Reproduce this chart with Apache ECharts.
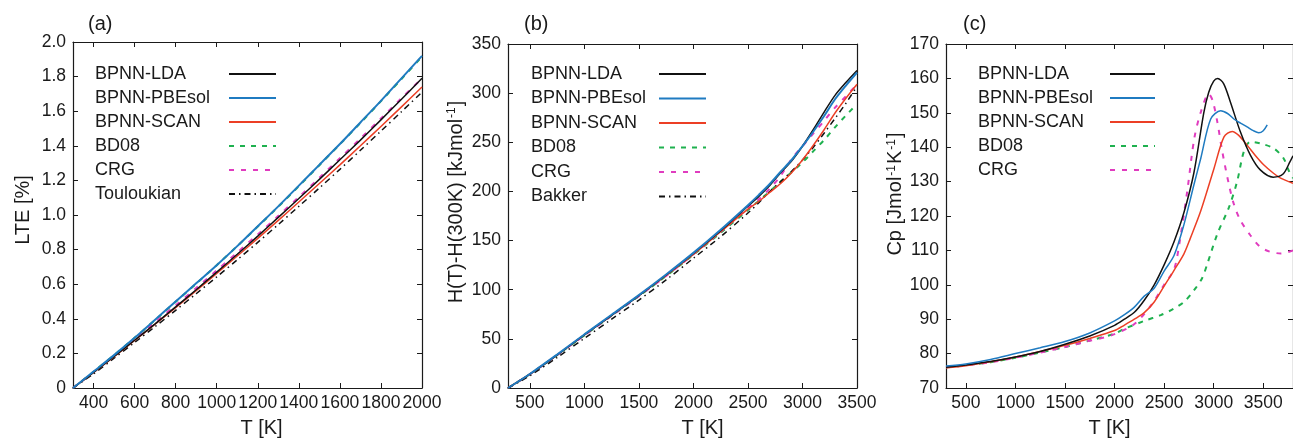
<!DOCTYPE html>
<html>
<head>
<meta charset="utf-8">
<script src="https://cdn.jsdelivr.net/npm/echarts@6/dist/echarts.min.js"></script>
<style>
html, body { margin: 0; padding: 0; background: #fff; }
#chart { width: 1293px; height: 443px; }
</style>
</head>
<body>
<div id="chart"></div>
<script>
// (a) linear thermal expansion
var tempA = [300, 400, 500, 600, 700, 800, 900, 1000, 1100, 1200, 1300, 1400, 1500, 1600, 1700, 1800, 1900, 2000];
var ldaA = [0, 0.09, 0.182, 0.276, 0.371, 0.469, 0.568, 0.67, 0.773, 0.878, 0.986, 1.095, 1.206, 1.319, 1.433, 1.55, 1.669, 1.79];
var pbeA = [0, 0.095, 0.19, 0.29, 0.395, 0.5, 0.605, 0.71, 0.82, 0.935, 1.05, 1.17, 1.29, 1.41, 1.535, 1.66, 1.79, 1.92];
var scanA = [0, 0.09, 0.181, 0.275, 0.369, 0.465, 0.563, 0.662, 0.763, 0.865, 0.969, 1.075, 1.182, 1.29, 1.4, 1.512, 1.625, 1.74];
var bd08A = [0, 0.094, 0.19, 0.29, 0.393, 0.498, 0.603, 0.71, 0.82, 0.933, 1.048, 1.167, 1.288, 1.409, 1.532, 1.658, 1.786, 1.915];
var crgA = [0, 0.092, 0.186, 0.282, 0.38, 0.478, 0.578, 0.68, 0.783, 0.888, 0.995, 1.104, 1.215, 1.328, 1.442, 1.558, 1.675, 1.79];
var toulA = [0, 0.082, 0.172, 0.263, 0.355, 0.449, 0.545, 0.642, 0.741, 0.842, 0.945, 1.05, 1.156, 1.264, 1.374, 1.485, 1.597, 1.71];

// (b) enthalpy
var tempB = [300, 500, 750, 1000, 1250, 1500, 1750, 2000, 2250, 2500, 2600, 2700, 2800, 2900, 3000, 3100, 3200, 3300, 3400, 3500];
var ldaB = [0, 14, 33.5, 54, 74, 94, 115, 137, 160, 185, 195, 206, 219, 231, 246, 263, 281, 298, 311, 323];
var pbeB = [0, 14.2, 34, 54.5, 74.5, 94.5, 115.5, 137.5, 161, 186, 196.5, 207.5, 220, 232, 246, 261, 277, 294, 308, 321];
var scanB = [0, 14, 33.5, 54, 74, 94, 114.5, 136, 159, 182, 190, 199, 208, 219, 232, 247, 263, 280, 295, 309];
var bd08B = [0, 14, 33.5, 53.5, 73.5, 93.5, 114, 135.5, 158, 181, 190.5, 200, 210, 219.5, 229.5, 241, 252.5, 265.5, 277.5, 289];
var crgB = [0, 14, 33.5, 53.5, 73.5, 93.5, 114, 136, 159, 183, 192, 203, 216, 233, 246, 259, 272, 285.5, 297, 309];
var bakkerB = [0, 12.5, 31, 50.5, 70, 89.5, 110, 132, 154, 178, 188.5, 200, 210, 220.5, 232, 245, 259.5, 274.5, 290, 307];

// (c) heat capacity, [T, Cp]
var ldaC = [[300, 76], [500, 76.7], [750, 77.7], [1000, 79], [1250, 80.6], [1500, 82.7], [1750, 85.1], [2000, 88.2], [2100, 90], [2200, 92], [2300, 95.5], [2400, 100], [2500, 105.8], [2600, 112.5], [2700, 121], [2800, 132.5], [2900, 150], [2950, 156], [3000, 159.2], [3040, 160], [3100, 158.5], [3170, 153], [3270, 144.4], [3370, 137.7], [3470, 133.4], [3600, 131.3], [3700, 132.2], [3770, 135.8], [3800, 137.5]];
var pbeC = [[300, 76.4], [500, 77], [750, 78.3], [1000, 80], [1250, 81.7], [1500, 83.5], [1750, 86], [2000, 89.5], [2100, 91.3], [2200, 93.5], [2300, 96.7], [2400, 99], [2500, 104], [2600, 108.5], [2700, 117.5], [2800, 129], [2870, 136.8], [2970, 148.2], [3070, 150.6], [3140, 149.8], [3204, 148.2], [3270, 147], [3337, 145.9], [3400, 144.8], [3454, 144.2], [3500, 144.8], [3540, 146.5]];
var scanC = [[300, 75.9], [500, 76.5], [750, 77.6], [1000, 79], [1250, 80.6], [1500, 82.4], [1750, 84.4], [2000, 86.7], [2100, 88.3], [2200, 90], [2300, 91.9], [2400, 95], [2500, 99.6], [2600, 104.2], [2700, 109], [2764, 113.5], [2870, 121.5], [3004, 133.9], [3104, 143], [3187, 144.6], [3250, 143.5], [3337, 140.6], [3420, 137.6], [3504, 134.9], [3600, 132.5], [3670, 131.1], [3800, 129.5]];
var bd08C = [[300, 76], [500, 76.6], [750, 77.5], [1000, 78.8], [1250, 80.3], [1500, 81.9], [1750, 83.8], [2000, 85.8], [2100, 87.2], [2300, 89.5], [2467, 91.2], [2600, 93.1], [2700, 95], [2804, 98.5], [2883, 101.9], [2937, 106.2], [3037, 114.8], [3154, 122.5], [3237, 130.1], [3304, 138.7], [3370, 141.6], [3470, 141.1], [3604, 139.7], [3704, 136.8], [3760, 133], [3800, 131]];
var crgC = [[300, 76], [500, 76.6], [750, 77.5], [1000, 78.8], [1250, 80.3], [1500, 81.9], [1700, 83.4], [1967, 85.3], [2200, 88.6], [2380, 94.5], [2500, 100], [2600, 104.5], [2654, 112], [2737, 128], [2804, 142.5], [2870, 150.2], [2950, 155.5], [2990, 153.5], [3037, 147.3], [3087, 138.7], [3154, 129.1], [3204, 123.4], [3270, 118.7], [3370, 114.4], [3470, 111], [3570, 109.6], [3680, 109.1], [3800, 110]];

var ticksA = [400, 600, 800, 1000, 1200, 1400, 1600, 1800, 2000];
var ticksB = [500, 1000, 1500, 2000, 2500, 3000, 3500];
var ticksC = [500, 1000, 1500, 2000, 2500, 3000, 3500];

var FONT = 'Liberation Sans';
var INK = '#1a1a1a';

function zip(xs, ys) {
    var out = [];
    for (var i = 0; i < xs.length; i++)
        out.push([xs[i], ys[i]]);
    return out;
}

function line(name, data, idx, color, width, dash) {
    return {
        type: 'line', name: name, data: data,
        xAxisIndex: idx * 2, yAxisIndex: idx * 2,
        symbol: 'none', smooth: 0.3, animation: false,
        lineStyle: { color: color, width: width, type: dash || 'solid' },
        itemStyle: { color: color }
    };
}

function xPair(gi, min, max, ticks, pad) {
    var base = {
        type: 'value', gridIndex: gi, min: min, max: max,
        axisLine: { onZero: false, lineStyle: { color: INK, width: 1.2 } },
        axisTick: { inside: true, length: 5, customValues: ticks, lineStyle: { color: INK, width: 1 } },
        splitLine: { show: false }
    };
    var bottom = Object.assign({}, base, {
        position: 'bottom',
        name: 'T [K]', nameLocation: 'middle', nameGap: 30,
        nameTextStyle: { fontSize: 20, color: INK, fontFamily: FONT, padding: pad },
        axisLabel: {
            customValues: ticks, showMaxLabel: true, showMinLabel: true, hideOverlap: false,
            fontSize: 17.5, color: INK, fontFamily: FONT, margin: 6,
            formatter: function (v) { return String(v); }
        }
    });
    var top = Object.assign({}, base, { position: 'top', axisLabel: { show: false } });
    return [bottom, top];
}

function yPair(gi, min, max, step, name, gap, pad, fmt, rich) {
    var base = {
        type: 'value', gridIndex: gi, min: min, max: max, interval: step,
        axisLine: { onZero: false, lineStyle: { color: INK, width: 1.2 } },
        axisTick: { inside: true, length: 5, lineStyle: { color: INK, width: 1 } },
        splitLine: { show: false }
    };
    var left = Object.assign({}, base, {
        position: 'left',
        name: name, nameLocation: 'middle', nameGap: gap,
        nameTextStyle: { fontSize: 20, color: INK, fontFamily: FONT, padding: pad, rich: rich || {} },
        axisLabel: { fontSize: 17.5, color: INK, fontFamily: FONT, margin: 7, formatter: fmt || function (v) { return String(v); } }
    });
    var right = Object.assign({}, base, { position: 'right', axisLabel: { show: false } });
    return [left, right];
}

function legendFor(left, top, names, boxW, iconW, gap) {
    return {
        orient: 'vertical', left: left, top: top, align: 'right',
        itemWidth: iconW, itemHeight: 14, itemGap: gap,
        data: names, selectedMode: false,
        itemStyle: { opacity: 0 },
        formatter: function (n) { return '{t|' + n + '}'; },
        textStyle: {
            fontFamily: FONT, fontSize: 18, color: INK,
            rich: { t: { width: boxW, align: 'left', fontSize: 18, fontFamily: FONT, color: INK } }
        }
    };
}

var sup = { s: { fontSize: 12, verticalAlign: 'top', fontFamily: FONT, color: INK, padding: [0, 1, 0, 1] } };

var BLACK = '#111111', BLUE = '#1f7bc1', RED = '#ec3f25', GREEN = '#1fb14f', PINK = '#e03cbf';

var option = {
    backgroundColor: '#fff',
    animation: false,
    title: [
        { text: '(a)', left: 83, top: 9, textStyle: { fontSize: 20, fontWeight: 'normal', color: INK, fontFamily: FONT } },
        { text: '(b)', left: 519, top: 9, textStyle: { fontSize: 20, fontWeight: 'normal', color: INK, fontFamily: FONT } },
        { text: '(c)', left: 958, top: 9, textStyle: { fontSize: 20, fontWeight: 'normal', color: INK, fontFamily: FONT } }
    ],
    grid: [
        { left: 73, top: 42, width: 349, height: 348 },
        { left: 508, top: 44, width: 349, height: 349 },
        { left: 946, top: 44, width: 350, height: 349 }
    ],
    xAxis: [].concat(
        xPair(0, 300, 2000, ticksA, [0, 0, 0, 28]),
        xPair(1, 300, 3500, ticksB, [0, 0, 0, 40]),
        xPair(2, 300, 3800, ticksC, [0, 20, 0, 0])
    ),
    yAxis: [].concat(
        yPair(0, 0, 2, 0.2, 'LTE [%]', 40, [0, 0, 0, 10], function (v) { return v === 0 ? '0' : v.toFixed(1); }),
        yPair(1, 0, 350, 50, 'H(T)-H(300K) [kJmol{s|-1}]', 42, [0, 0, 0, 28], null, sup),
        yPair(2, 70, 170, 10, 'Cp [Jmol{s|-1}K{s|-1}]', 40, [0, 0, 0, 44], null, sup)
    ),
    legend: [
        legendFor(90, 60, ['BPNN-LDA', 'BPNN-PBEsol', 'BPNN-SCAN', 'BD08', 'CRG', 'Touloukian'], 129, 47, 6),
        legendFor(526, 60, ['BPNN-LDA', 'BPNN-PBEsol', 'BPNN-SCAN', 'BD08', 'CRG', 'Bakker'], 123, 47, 6.5),
        legendFor(973, 60, ['BPNN-LDA', 'BPNN-PBEsol', 'BPNN-SCAN', 'BD08', 'CRG'], 127, 45, 6)
    ],
    series: [
        line('BD08', zip(tempA, bd08A), 0, GREEN, 2, [5, 6]),
        line('CRG', zip(tempA, crgA), 0, PINK, 2, [5, 7]),
        line('Touloukian', zip(tempA, toulA), 0, BLACK, 1.5, [6, 4, 1.5, 4]),
        line('BPNN-SCAN', zip(tempA, scanA), 0, RED, 1.5),
        line('BPNN-LDA', zip(tempA, ldaA), 0, BLACK, 1.5),
        line('BPNN-PBEsol', zip(tempA, pbeA), 0, BLUE, 2),

        line('BD08', zip(tempB, bd08B), 1, GREEN, 2, [5, 6]),
        line('CRG', zip(tempB, crgB), 1, PINK, 2, [5, 7]),
        line('Bakker', zip(tempB, bakkerB), 1, BLACK, 1.5, [6, 4, 1.5, 4]),
        line('BPNN-SCAN', zip(tempB, scanB), 1, RED, 1.5),
        line('BPNN-LDA', zip(tempB, ldaB), 1, BLACK, 1.5),
        line('BPNN-PBEsol', zip(tempB, pbeB), 1, BLUE, 2),

        line('BD08', bd08C, 2, GREEN, 2, [5, 6]),
        line('CRG', crgC, 2, PINK, 2, [5, 7]),
        line('BPNN-SCAN', scanC, 2, RED, 1.5),
        line('BPNN-LDA', ldaC, 2, BLACK, 1.5),
        line('BPNN-PBEsol', pbeC, 2, BLUE, 1.5)
    ]
};

var chart = echarts.init(document.getElementById('chart'));
chart.setOption(option);
</script>
</body>
</html>
